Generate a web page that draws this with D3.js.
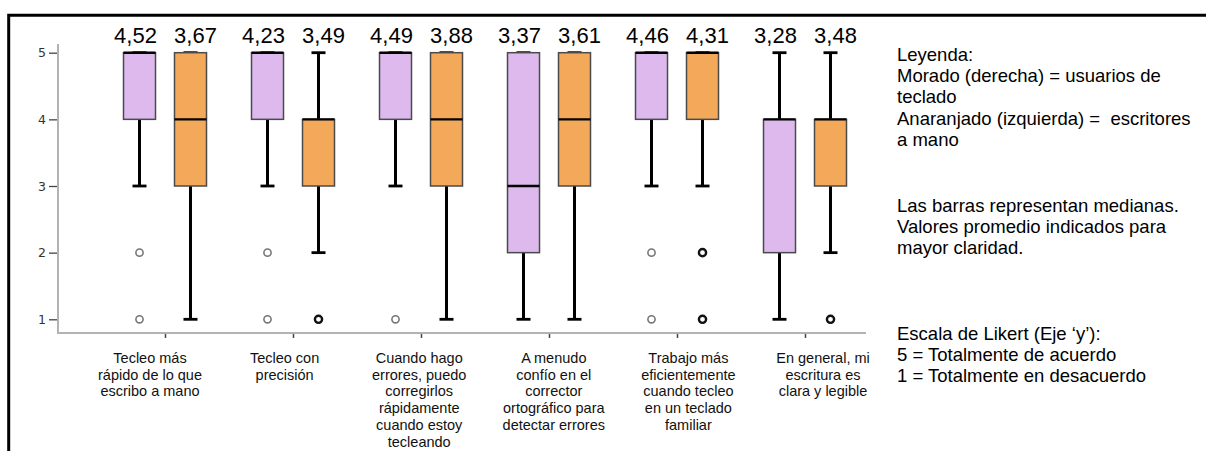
<!DOCTYPE html>
<html>
<head>
<meta charset="utf-8">
<script src="https://cdn.jsdelivr.net/npm/d3@7"></script>
<style>
  html, body { margin: 0; padding: 0; background: #fff; }
  svg { display: block; font-family: "Liberation Sans", Arial, sans-serif; }
</style>
</head>
<body>
<svg id="chart" width="1206" height="451"></svg>
<script>
// Survey statements (x categories), each split into lines for the axis label
const categories = [
  "Tecleo más rápido de lo que escribo a mano",
  "Tecleo con precisión",
  "Cuando hago errores, puedo corregirlos rápidamente cuando estoy tecleando",
  "A menudo confío en el corrector ortográfico para detectar errores",
  "Trabajo más eficientemente cuando tecleo en un teclado familiar",
  "En general, mi escritura es clara y legible"
];
const categoryLines = [
  ["Tecleo más", "rápido de lo que", "escribo a mano"],
  ["Tecleo con", "precisión"],
  ["Cuando hago", "errores, puedo", "corregirlos", "rápidamente", "cuando estoy", "tecleando"],
  ["A menudo", "confío en el", "corrector", "ortográfico para", "detectar errores"],
  ["Trabajo más", "eficientemente", "cuando tecleo", "en un teclado", "familiar"],
  ["En general, mi", "escritura es", "clara y legible"]
];

// Keyboard users (purple)
const keyboardQ1      = [4, 4, 4, 2, 4, 2];
const keyboardMedian  = [5, 5, 5, 3, 5, 4];
const keyboardQ3      = [5, 5, 5, 5, 5, 4];
const keyboardLow     = [3, 3, 3, 1, 3, 1];
const keyboardHigh    = [5, 5, 5, 5, 5, 5];
const keyboardOutliers = [[2, 1], [2, 1], [1], [], [2, 1], []];
const keyboardMean    = [4.52, 4.23, 4.49, 3.37, 4.46, 3.28];

// Handwriters (orange)
const handQ1      = [3, 3, 3, 3, 4, 3];
const handMedian  = [4, 4, 4, 4, 5, 4];
const handQ3      = [5, 4, 5, 5, 5, 4];
const handLow     = [1, 2, 1, 1, 3, 2];
const handHigh    = [5, 5, 5, 5, 5, 5];
const handOutliers = [[], [1], [], [], [2, 1], [1]];
const handMean    = [3.67, 3.49, 3.88, 3.61, 4.31, 3.48];

const yTicks = [1, 2, 3, 4, 5];

const legendBlocks = [
  { lines: ["Leyenda:", "Morado (derecha) = usuarios de", "teclado",
            "Anaranjado (izquierda) =  escritores", "a mano"], y: 61 },
  { lines: ["Las barras representan medianas.", "Valores promedio indicados para",
            "mayor claridad."], y: 211.5 },
  { lines: ["Escala de Likert (Eje \u2018y\u2019):", "5 = Totalmente de acuerdo",
            "1 = Totalmente en desacuerdo"], y: 340 }
];

const seriesKeys = ["teclado", "mano"];
const series = [
  { key: "teclado", fill: "#ddb9ee", outlierStroke: "#777", outlierWidth: 1.6,
    q1: keyboardQ1, med: keyboardMedian, q3: keyboardQ3, lo: keyboardLow, hi: keyboardHigh,
    out: keyboardOutliers, mean: keyboardMean, labelShift: -4 },
  { key: "mano", fill: "#f4a95a", outlierStroke: "#111", outlierWidth: 2.4,
    q1: handQ1, med: handMedian, q3: handQ3, lo: handLow, hi: handHigh,
    out: handOutliers, mean: handMean, labelShift: 5 }
];

const svg = d3.select("#chart");
const fmt = v => v.toFixed(2).replace(".", ",");

// Scales
const y = d3.scaleLinear().domain([1, 5]).range([319.3, 52.7]);
const x = d3.scalePoint().domain(categories).range([165, 805]);
const xLabel = d3.scalePoint().domain(categories).range([150, 823]);
const xSub = d3.scalePoint().domain(seriesKeys).range([-25.5, 25.5]);
const boxW = 32, capW = 14;

// Outer frame (top and left edges)
svg.append("path")
  .attr("d", "M8.7,451 V15.2 H1206")
  .attr("fill", "none").attr("stroke", "#000").attr("stroke-width", 3);

// Y axis
const yAxis = svg.append("g").attr("transform", "translate(58,0)")
  .call(d3.axisLeft(y).tickValues(yTicks).tickSize(9).tickPadding(3).tickFormat(d3.format("d")));
yAxis.select(".domain").remove();
yAxis.selectAll(".tick line").attr("stroke", "#444").attr("stroke-width", 1.3);
yAxis.selectAll(".tick text").attr("fill", "#333").attr("font-size", 12.5)
  .attr("font-family", "'DejaVu Sans', sans-serif");
svg.append("line").attr("x1", 58).attr("x2", 58).attr("y1", 44).attr("y2", 333.5)
  .attr("stroke", "#b3b3b3").attr("stroke-width", 2);

// X axis
const xAxis = svg.append("g").attr("transform", "translate(0,333)")
  .call(d3.axisBottom(x).tickSize(5).tickFormat(""));
xAxis.select(".domain").remove();
xAxis.selectAll(".tick line").attr("stroke", "#444").attr("stroke-width", 1.5);
svg.append("line").attr("x1", 57).attr("x2", 866).attr("y1", 333).attr("y2", 333)
  .attr("stroke", "#b3b3b3").attr("stroke-width", 2);

// Category labels
categories.forEach((c, i) => {
  const t = svg.append("text").attr("text-anchor", "middle")
    .attr("font-size", 14.5).attr("fill", "#111");
  categoryLines[i].forEach((ln, j) => {
    t.append("tspan").attr("x", xLabel(c)).attr("y", 363 + j * 16.7).text(ln);
  });
});

// Box plots
series.forEach(s => {
  const g = svg.append("g").attr("class", "series-" + s.key);
  categories.forEach((c, i) => {
    const cx = x(c) + xSub(s.key);
    // whiskers
    g.append("line").attr("x1", cx).attr("x2", cx)
      .attr("y1", y(s.lo[i])).attr("y2", y(s.q1[i]))
      .attr("stroke", "#000").attr("stroke-width", 3);
    g.append("line").attr("x1", cx).attr("x2", cx)
      .attr("y1", y(s.q3[i])).attr("y2", y(s.hi[i]))
      .attr("stroke", "#000").attr("stroke-width", 3);
    [s.lo[i], s.hi[i]].forEach(v => {
      g.append("line").attr("x1", cx - capW / 2).attr("x2", cx + capW / 2)
        .attr("y1", y(v)).attr("y2", y(v))
        .attr("stroke", "#000").attr("stroke-width", 2.8);
    });
    // box
    g.append("rect")
      .attr("x", cx - boxW / 2).attr("width", boxW)
      .attr("y", y(s.q3[i])).attr("height", y(s.q1[i]) - y(s.q3[i]))
      .attr("fill", s.fill).attr("stroke", "#4a4a4a").attr("stroke-width", 1.5);
    // median
    g.append("line").attr("x1", cx - boxW / 2).attr("x2", cx + boxW / 2)
      .attr("y1", y(s.med[i])).attr("y2", y(s.med[i]))
      .attr("stroke", "#000").attr("stroke-width", 2.4);
    // outliers
    s.out[i].forEach(v => {
      g.append("circle").attr("cx", cx).attr("cy", y(v)).attr("r", 3.6)
        .attr("fill", "#fff").attr("stroke", s.outlierStroke).attr("stroke-width", s.outlierWidth);
    });
    // mean value label
    svg.append("text").attr("x", cx + s.labelShift).attr("y", 43)
      .attr("text-anchor", "middle").attr("font-size", 22).attr("fill", "#000")
      .text(fmt(s.mean[i]));
  });
});

// Legend / notes
legendBlocks.forEach(b => {
  const t = svg.append("text").attr("font-size", 18.5).attr("fill", "#000");
  b.lines.forEach((ln, j) => {
    t.append("tspan").attr("x", 897).attr("y", b.y + j * 21.2)
      .attr("xml:space", "preserve").text(ln);
  });
});
</script>
</body>
</html>
